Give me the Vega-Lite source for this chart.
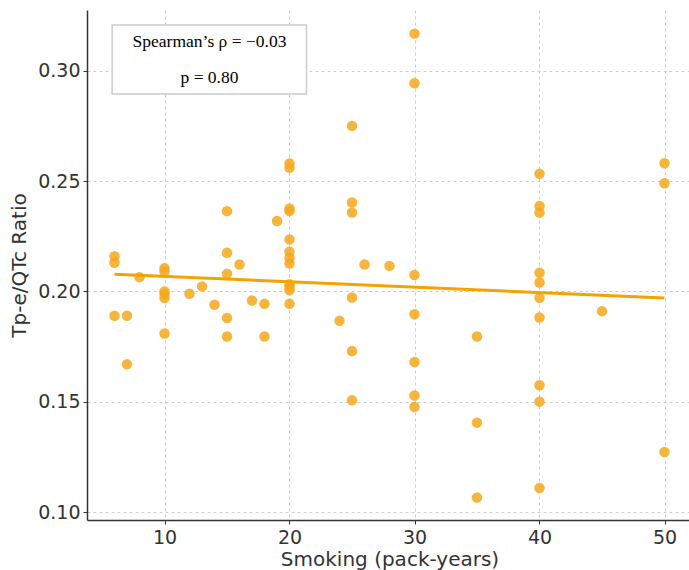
{
  "$schema": "https://vega.github.io/schema/vega-lite/v6.json",
  "width": 605,
  "height": 510,
  "autosize": "none",
  "padding": {"left": 87, "top": 10, "right": 0, "bottom": 50},
  "background": "white",
  "view": {"stroke": null},
  "config": {
    "font": "DejaVu Sans",
    "axis": {
      "labelFont": "DejaVu Sans",
      "titleFont": "DejaVu Sans",
      "labelFontSize": 19,
      "titleFontSize": 20,
      "labelColor": "#333333",
      "titleColor": "#333333",
      "titleFontWeight": "normal",
      "domainColor": "#333333",
      "domainWidth": 1.5,
      "tickColor": "#333333",
      "tickSize": 4,
      "tickWidth": 1,
      "gridColor": "#cccccc",
      "gridDash": [3, 3],
      "gridWidth": 1
    }
  },
  "layer": [
    {
      "data": {"values": [
        {"x": 6, "y": 0.216}, {"x": 6, "y": 0.213}, {"x": 6, "y": 0.189},
        {"x": 7, "y": 0.189}, {"x": 7, "y": 0.167},
        {"x": 8, "y": 0.2065},
        {"x": 10, "y": 0.2105}, {"x": 10, "y": 0.209}, {"x": 10, "y": 0.200}, {"x": 10, "y": 0.1988}, {"x": 10, "y": 0.197}, {"x": 10, "y": 0.181},
        {"x": 12, "y": 0.199},
        {"x": 13, "y": 0.2023},
        {"x": 14, "y": 0.194},
        {"x": 15, "y": 0.2364}, {"x": 15, "y": 0.2175}, {"x": 15, "y": 0.208}, {"x": 15, "y": 0.188}, {"x": 15, "y": 0.1796},
        {"x": 16, "y": 0.2122},
        {"x": 17, "y": 0.1959},
        {"x": 18, "y": 0.1944}, {"x": 18, "y": 0.1796},
        {"x": 19, "y": 0.2319},
        {"x": 20, "y": 0.258}, {"x": 20, "y": 0.256}, {"x": 20, "y": 0.2376}, {"x": 20, "y": 0.2364}, {"x": 20, "y": 0.2236}, {"x": 20, "y": 0.218}, {"x": 20, "y": 0.2152}, {"x": 20, "y": 0.2127}, {"x": 20, "y": 0.2033}, {"x": 20, "y": 0.2021}, {"x": 20, "y": 0.2006}, {"x": 20, "y": 0.1944},
        {"x": 24, "y": 0.1867},
        {"x": 25, "y": 0.275}, {"x": 25, "y": 0.2403}, {"x": 25, "y": 0.2358}, {"x": 25, "y": 0.1973}, {"x": 25, "y": 0.173}, {"x": 25, "y": 0.1507},
        {"x": 26, "y": 0.2122},
        {"x": 28, "y": 0.2116},
        {"x": 30, "y": 0.3168}, {"x": 30, "y": 0.2943}, {"x": 30, "y": 0.2075}, {"x": 30, "y": 0.1897}, {"x": 30, "y": 0.1681}, {"x": 30, "y": 0.1529}, {"x": 30, "y": 0.1477},
        {"x": 35, "y": 0.1796}, {"x": 35, "y": 0.1406}, {"x": 35, "y": 0.1067},
        {"x": 40, "y": 0.2533}, {"x": 40, "y": 0.2387}, {"x": 40, "y": 0.2358}, {"x": 40, "y": 0.2085}, {"x": 40, "y": 0.2041}, {"x": 40, "y": 0.1971}, {"x": 40, "y": 0.1882}, {"x": 40, "y": 0.1575}, {"x": 40, "y": 0.1501}, {"x": 40, "y": 0.111},
        {"x": 45, "y": 0.1911},
        {"x": 50, "y": 0.2581}, {"x": 50, "y": 0.249}, {"x": 50, "y": 0.1273}
      ]},
      "mark": {"type": "circle", "size": 110, "color": "#F4A81C", "opacity": 0.85},
      "encoding": {
        "x": {"field": "x", "type": "quantitative", "title": "Smoking (pack-years)",
              "scale": {"domain": [3.8, 52.2], "nice": false, "zero": false},
              "axis": {"values": [10, 20, 30, 40, 50], "labelPadding": 4, "titlePadding": 2}},
        "y": {"field": "y", "type": "quantitative", "title": "Tp-e/QTc Ratio",
              "scale": {"domain": [0.0965, 0.3275], "nice": false, "zero": false},
              "axis": {"values": [0.10, 0.15, 0.20, 0.25, 0.30], "format": ".2f", "labelPadding": 3, "titlePadding": 8}}
      }
    },
    {
      "data": {"values": [{"x": 6, "y": 0.2078}, {"x": 50, "y": 0.1971}]},
      "mark": {"type": "line", "color": "#F5A300", "strokeWidth": 3},
      "encoding": {
        "x": {"field": "x", "type": "quantitative"},
        "y": {"field": "y", "type": "quantitative"}
      }
    },
    {
      "data": {"values": [{"x": 5.81, "x2": 21.36, "y": 0.3207, "y2": 0.2894}]},
      "mark": {"type": "rect", "fill": "white", "stroke": "#cccccc", "strokeWidth": 1.5},
      "encoding": {
        "x": {"field": "x", "type": "quantitative"},
        "x2": {"field": "x2"},
        "y": {"field": "y", "type": "quantitative"},
        "y2": {"field": "y2"}
      }
    },
    {
      "data": {"values": [
        {"x": 13.6, "y": 0.3129, "label": "Spearman’s ρ = −0.03"},
        {"x": 13.6, "y": 0.2966, "label": "p = 0.80"}
      ]},
      "mark": {"type": "text", "font": "Liberation Serif", "fontSize": 17.5, "color": "black", "align": "center", "baseline": "middle"},
      "encoding": {
        "x": {"field": "x", "type": "quantitative"},
        "y": {"field": "y", "type": "quantitative"},
        "text": {"field": "label"}
      }
    }
  ]
}
